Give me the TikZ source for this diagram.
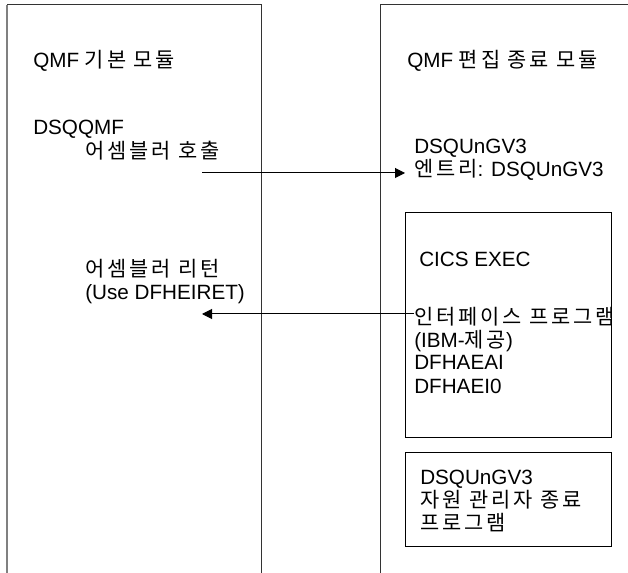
\documentclass[tikz,border=0pt]{standalone}
\usepackage{fontspec}
\setmainfont{Liberation Sans}
\newfontfamily\kr{Noto Sans CJK KR}[Scale=1.01, LetterSpace=14]
\newcommand{\ko}[1]{{\kr #1}}
\usetikzlibrary{arrows.meta,positioning}

\begin{document}
\begin{tikzpicture}[
  x=0.75pt, y=-0.75pt,
  font=\fontsize{15.5}{17.25}\selectfont,
  txt/.style={anchor=base west, align=left, inner sep=0pt},
  box/.style={draw, anchor=north west, line width=0.75pt, inner sep=0pt},
  arrow/.style={-{Triangle[length=7.5pt, width=7.5pt]}, line width=0.75pt}
]
\useasboundingbox (0,0) rectangle (628,573);

% module columns, open at the bottom
\draw[gray, line width=1.5pt] (7,573) -- (7,5);
\draw[line width=0.75pt, black!80] (7,5) -- (261,5) -- (261,573);
\draw[line width=0.75pt, black!80] (380,573) |- (628,5);

% inner boxes
\node[box, minimum width=154.5pt, minimum height=168.75pt] (cicsbox) at (405,212) {};
\node[box, minimum width=154.5pt, minimum height=70.5pt] (rmbox) at (405,452) {};

% left module (base = last line)
\node[txt] (lefttitle) at (33,68) {QMF \ko{기본 모듈}};
\node[txt] (dsqqmf) at (33,135) {DSQQMF};
\node[txt] (call) at (85,159) {\ko{어셈블러 호출}};
\node[txt] (ret) at (85,300) {\ko{어셈블러 리턴}\\(Use DFHEIRET)};

% right module
\node[txt] (righttitle) at (407,68) {QMF \ko{편집 종료 모듈}};
\node[txt] (entry) at (414,177) {DSQUnGV3\\\ko{엔트리}: DSQUnGV3};
\node[txt] (cics) at (419,267) {CICS EXEC};
\node[txt] (iface) at (414,393) {\ko{인터페이스 프로그램}\\(IBM-\ko{제공})\\DFHAEAI\\DFHAEI0};
\node[txt] (rmexit) at (420,530) {DSQUnGV3\\\ko{자원 관리자 종료}\\\ko{프로그램}};

% calls
\coordinate (callpt) at (202,173);
\coordinate (retpt) at (202,314);
\draw[arrow, shorten >=6.75pt] (callpt) -- (callpt -| entry.west);
\draw[arrow] (iface.west |- retpt) -- (retpt);

\end{tikzpicture}
\end{document}
